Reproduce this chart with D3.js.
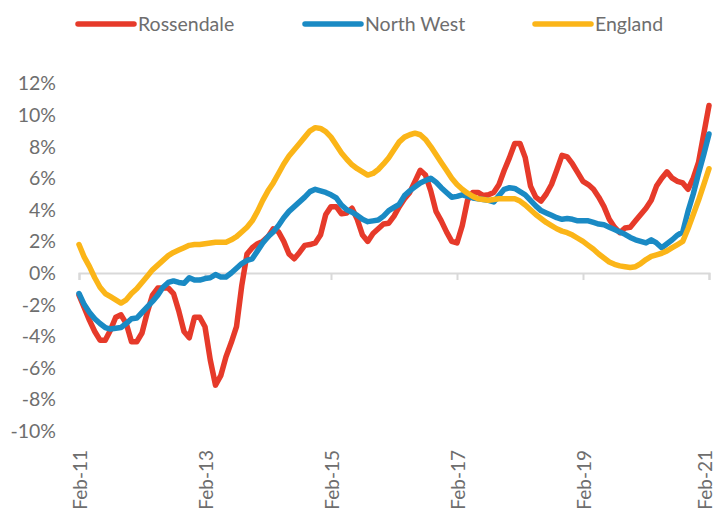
<!DOCTYPE html>
<html>
<head>
<meta charset="utf-8">
<script src="https://cdn.jsdelivr.net/npm/d3@7"></script>
<style>
  body { margin: 0; background: #fff; }
  text { font-family: Lato, "Open Sans", sans-serif; fill: #6e6e6e; }
</style>
</head>
<body>
<div id="chart"></div>
<script>
// monthly series, Feb-11 .. Feb-21 (121 months), % change
const seriesNames = ["Rossendale", "North West", "England"];
const seriesColors = ["#e63a2a", "#1a8ac4", "#fbb518"];

const rossendale = [
  -1.4, -2.2, -3.0, -3.7, -4.25, -4.25, -3.6, -2.8, -2.65, -3.2, -4.35, -4.35,
  -3.8, -2.5, -1.4, -0.95, -0.95, -0.95, -1.3, -2.4, -3.7, -4.1, -2.8, -2.8,
  -3.4, -5.5, -7.1, -6.5, -5.3, -4.4, -3.4, -0.8, 1.2, 1.6, 1.85, 2.0,
  2.3, 2.8, 2.6, 2.0, 1.2, 0.9, 1.3, 1.75, 1.8, 1.9, 2.4, 3.7,
  4.2, 4.2, 3.75, 3.8, 4.1, 3.4, 2.4, 2.0, 2.5, 2.8, 3.1, 3.15,
  3.6, 4.2, 4.7, 5.1, 5.8, 6.5, 6.2, 5.2, 3.9, 3.3, 2.6, 2.0,
  1.9, 3.0, 4.6, 5.1, 5.1, 4.9, 4.95, 5.1, 5.6, 6.5, 7.3, 8.2,
  8.2, 7.3, 5.5, 4.8, 4.55, 5.0, 5.6, 6.5, 7.45, 7.35, 6.9, 6.35,
  5.8, 5.6, 5.3, 4.8, 4.2, 3.4, 2.9, 2.55, 2.85, 2.9, 3.3, 3.7,
  4.1, 4.6, 5.5, 6.0, 6.4, 6.0, 5.8, 5.7, 5.3, 6.0, 7.0, 8.8,
  10.6
];
const northWest = [
  -1.3, -2.0, -2.5, -2.9, -3.2, -3.45, -3.55, -3.5, -3.45, -3.2, -2.9, -2.85,
  -2.5, -2.15, -1.8, -1.4, -0.9, -0.6, -0.5, -0.6, -0.65, -0.3, -0.45, -0.45,
  -0.35, -0.3, -0.1, -0.25, -0.25, 0.0, 0.3, 0.6, 0.8, 0.9, 1.4, 1.9,
  2.3, 2.6, 3.0, 3.5, 3.9, 4.2, 4.5, 4.8, 5.15, 5.3, 5.2, 5.1,
  4.95, 4.75, 4.3, 4.0, 3.85, 3.65, 3.4, 3.25, 3.3, 3.35, 3.6, 3.95,
  4.15, 4.35, 4.9, 5.2, 5.45, 5.7, 5.85, 6.0, 5.75, 5.4, 5.1, 4.8,
  4.85, 4.95, 4.85, 4.75, 4.7, 4.65, 4.6, 4.5, 4.9, 5.3, 5.4, 5.35,
  5.15, 4.95, 4.6, 4.25, 3.95, 3.8, 3.65, 3.5, 3.4, 3.45, 3.4, 3.3,
  3.3, 3.3, 3.2, 3.1, 3.05, 2.9, 2.75, 2.6, 2.45, 2.25, 2.1, 2.0,
  1.9, 2.1, 1.9, 1.6, 1.85, 2.1, 2.4, 2.6, 3.9, 5.0, 6.3, 7.5,
  8.8
];
const england = [
  1.8, 1.0, 0.4, -0.3, -0.9, -1.3, -1.5, -1.7, -1.9, -1.7, -1.3, -1.0,
  -0.6, -0.2, 0.2, 0.5, 0.8, 1.1, 1.3, 1.45, 1.6, 1.75, 1.8, 1.8,
  1.85, 1.9, 1.95, 1.95, 1.95, 2.1, 2.3, 2.6, 2.9, 3.3, 3.9, 4.6,
  5.2, 5.7, 6.3, 6.9, 7.4, 7.8, 8.2, 8.6, 9.0, 9.2, 9.15, 8.95,
  8.6, 8.1, 7.6, 7.2, 6.85, 6.6, 6.4, 6.2, 6.3, 6.55, 6.9, 7.3,
  7.8, 8.3, 8.6, 8.75, 8.85, 8.75, 8.45, 8.0, 7.5, 7.0, 6.5, 6.0,
  5.6, 5.3, 5.05, 4.85, 4.7, 4.65, 4.6, 4.65, 4.7, 4.7, 4.7, 4.7,
  4.55, 4.3, 4.0, 3.7, 3.45, 3.2, 3.0, 2.8, 2.65, 2.55, 2.4, 2.2,
  2.0, 1.75, 1.5, 1.2, 0.95, 0.7, 0.55, 0.45, 0.4, 0.35, 0.4, 0.6,
  0.85, 1.05, 1.15, 1.25, 1.4, 1.6, 1.8, 2.0, 2.8, 3.7, 4.6, 5.6,
  6.6
];
const seriesValues = [rossendale, northWest, england];

const xTickLabels = ["Feb-11", "Feb-13", "Feb-15", "Feb-17", "Feb-19", "Feb-21"];
const yTicks = [-10, -8, -6, -4, -2, 0, 2, 4, 6, 8, 10, 12];

const width = 719;
const height = 513;

const svg = d3.select("#chart")
  .append("svg")
  .attr("width", width)
  .attr("height", height);

// months since Feb-11
const x = d3.scaleLinear().domain([0, 120]).range([79, 709]);
const y = d3.scaleLinear().domain([-10, 12]).range([431, 83.4]);

// y labels (no axis line)
svg.append("g")
  .selectAll("text")
  .data(yTicks)
  .join("text")
    .attr("x", 56)
    .attr("y", d => y(d))
    .attr("dy", "0.36em")
    .attr("text-anchor", "end")
    .attr("font-size", "19.5px")
    .text(d => d + "%");

// x axis on the zero line, labels pushed to the bottom
const xAxis = svg.append("g")
  .attr("transform", `translate(0,${y(0)})`)
  .call(d3.axisBottom(x)
    .tickValues(d3.range(0, 121, 24))
    .tickSize(7)
    .tickFormat(""));
xAxis.select(".domain").attr("stroke", "#d9d9d9").attr("stroke-width", 2);
xAxis.selectAll(".tick line").attr("stroke", "#d9d9d9").attr("stroke-width", 2);

// rotated labels; the last one is nudged in so it stays inside the frame
svg.append("g")
  .selectAll("text")
  .data(xTickLabels)
  .join("text")
    .attr("transform", (d, i) => `translate(${Math.min(x(i * 24) + 1.5, 706)},450) rotate(-90)`)
    .attr("dy", "0.32em")
    .attr("text-anchor", "end")
    .attr("font-size", "19px")
    .text(d => d);

// lines
const line = d3.line()
  .x((d, i) => x(i))
  .y(d => y(d));

svg.append("g")
  .selectAll("path")
  .data(seriesValues)
  .join("path")
    .attr("d", line)
    .attr("fill", "none")
    .attr("stroke", (d, i) => seriesColors[i])
    .attr("stroke-width", 5.5)
    .attr("stroke-linejoin", "round")
    .attr("stroke-linecap", "round");

// legend
const legendX = [78, 305, 535];
const legend = svg.append("g")
  .selectAll("g")
  .data(seriesNames)
  .join("g")
    .attr("transform", (d, i) => `translate(${legendX[i]},24)`);

legend.append("line")
  .attr("x1", 0).attr("x2", 56)
  .attr("stroke", (d, i) => seriesColors[i])
  .attr("stroke-width", 5.5)
  .attr("stroke-linecap", "round");

legend.append("text")
  .attr("x", 60)
  .attr("dy", "0.36em")
  .attr("font-size", "19.5px")
  .text(d => d);
</script>
</body>
</html>
